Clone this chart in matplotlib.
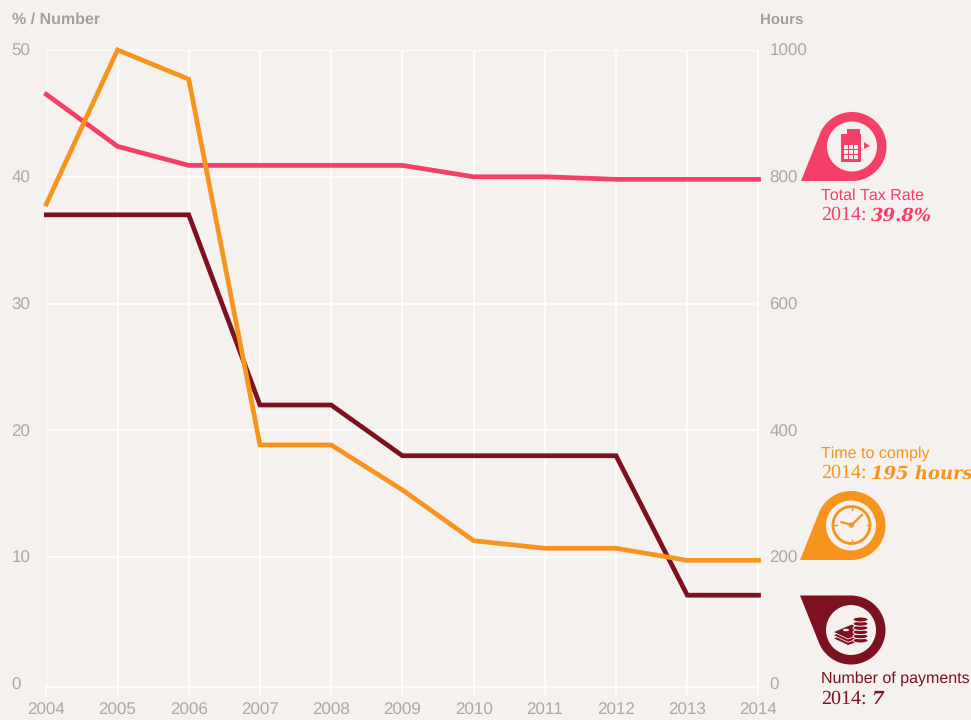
import numpy as np
import matplotlib
matplotlib.use('Agg')
import matplotlib.pyplot as plt
from matplotlib.patches import Polygon, Circle, Rectangle, Ellipse

years = [2004, 2005, 2006, 2007, 2008, 2009, 2010, 2011, 2012, 2013, 2014]
total_tax_rate = [46.5, 42.4, 40.9, 40.9, 40.9, 40.9, 40.0, 40.0, 39.8, 39.8, 39.8]
num_payments = [37, 37, 37, 22, 22, 18, 18, 18, 18, 7, 7]
time_to_comply = [757, 1000, 954, 377, 377, 306, 226, 214, 214, 195, 195]
left_ticks = [0, 10, 20, 30, 40, 50]
right_ticks = [0, 200, 400, 600, 800, 1000]

BG = '#f4f1ee'
PINK = '#f43f68'
ORANGE = '#f7941d'
MAROON = '#7d1120'
TICK = '#b0a79e'
HEAD = '#a89f96'
W, H = 971, 720

plt.rcParams['font.family'] = ['Liberation Sans', 'DejaVu Sans']
plt.rcParams['text.hinting'] = 'no_hinting'
plt.rcParams['text.hinting_factor'] = 1

fig = plt.figure(figsize=(W / 100, H / 100), dpi=100, facecolor=BG)
ax = fig.add_axes([46.3 / W, (H - 687) / H, 712.2 / W, 637 / H], facecolor=BG)
ax2 = ax.twinx()
ax.set_zorder(2)
ax2.set_zorder(1)
ax.patch.set_visible(False)
ax2.patch.set_facecolor(BG)

# the baseline sits a little under the zero label in the original
ax.set_xlim(2004, 2014)
ax.set_ylim(-0.24, 50)
ax2.set_ylim(-4.8, 1000)
ax.set_xticks(years)
ax.set_yticks(left_ticks)
ax2.set_yticks(right_ticks)
ax.grid(True, color='white', lw=1.2)
ax.yaxis.get_gridlines()[0].set_visible(False)
ax.set_axisbelow(True)
for a in (ax, ax2):
    for s in a.spines.values():
        s.set_visible(False)
ax.spines['bottom'].set_visible(True)
ax.spines['bottom'].set_color('white')
ax.spines['bottom'].set_linewidth(1.2)
ax.tick_params(axis='x', labelcolor=TICK, color='white', length=5.8, width=1.2,
               labelsize=12, pad=5.5)
ax.tick_params(axis='y', length=0, labelcolor=TICK, labelsize=12, pad=0)
ax2.tick_params(axis='y', length=0, labelcolor=TICK, labelsize=12, pad=8)
for lab in ax.get_yticklabels():
    lab.set_horizontalalignment('left')
    lab.set_x(-35 / 712.2)

ax.plot(years, total_tax_rate, color=PINK, lw=3.4, solid_joinstyle='miter', clip_on=False, zorder=3)
ax.plot(years, num_payments, color=MAROON, lw=3.4, solid_joinstyle='miter', clip_on=False, zorder=3)
ax.plot(years, np.array(time_to_comply) / 20, color=ORANGE, lw=3.4, solid_joinstyle='miter', clip_on=False, zorder=4)

# overlay in pixels for the badges and labels
ov = fig.add_axes([0, 0, 1, 1], facecolor='none')
ov.set_xlim(0, W)
ov.set_ylim(H, 0)
ov.axis('off')
ov.set_zorder(5)

ov.text(12, 19.5, '% / Number', color=HEAD, fontsize=11.5, fontweight='bold', va='center')
ov.text(760, 19.5, 'Hours', color=HEAD, fontsize=11, fontweight='bold', va='center')


def pin(cx, cy, color, flip=False):
    r = 34.5
    sign = -1 if flip else 1
    pts = [(cx - 51, cy + sign * r)]
    for t in np.radians(np.linspace(158, -90, 140)):
        pts.append((cx + r * np.cos(t), cy - sign * r * np.sin(t)))
    ov.add_patch(Polygon(pts, closed=True, fc=color, ec='none'))
    ov.add_patch(Circle((cx, cy), 25, fc=BG, ec='none'))


def label(x, y1, y2, name, value, color):
    ov.text(x, y1, name, color=color, fontsize=11.2, va='center')
    ov.text(x, y2, '2014:', color=color, fontsize=14.3, va='center', family='Liberation Serif')
    ov.text(871, y2 + 0.5, value, color=color, fontsize=12.8, va='center', family='DejaVu Serif',
            fontweight='bold', fontstyle='italic')


# calculator
pin(852, 146.5, PINK)
ov.add_patch(Rectangle((841, 134), 20, 28, fc=PINK, ec='none'))
ov.add_patch(Rectangle((847, 129), 13, 5, fc=PINK, ec='none'))
for i in range(3):
    for j in range(3):
        ov.add_patch(Rectangle((844 + i * 5.2, 145 + j * 5), 4, 4, fc=BG, ec='none'))
ov.add_patch(Polygon([(864, 142), (870, 146), (864, 149)], fc=PINK, ec='none'))

# clock
pin(851, 525.5, ORANGE)
ov.add_patch(Circle((851.5, 525), 18.5, fc='none', ec=ORANGE, lw=2))
ov.plot([851.5, 862], [525, 515], color=ORANGE, lw=1.6)
ov.plot([851.5, 841.5], [525, 522], color=ORANGE, lw=1.6)
ov.add_patch(Circle((851.5, 525), 2, fc=BG, ec=ORANGE, lw=1))
for dx, dy in [(0, -15), (0, 15), (-15, 0), (15, 0)]:
    ov.plot([851.5 + dx, 851.5 + dx * 1.2], [525 + dy, 525 + dy * 1.2], color=ORANGE, lw=1)

# coins and notes
pin(851, 630, MAROON, flip=True)
for k in [2, 1, 0]:
    ov.add_patch(Polygon([(833, 632 + k * 3.2), (852, 624 + k * 3.2), (866, 633 + k * 3.2), (848, 639 + k * 3.2)],
                         fc=MAROON, ec=BG, lw=0.6))
ov.add_patch(Ellipse((846, 630), 6, 2.5, fc=BG, ec='none'))
for k in range(5, -1, -1):
    ov.add_patch(Ellipse((860.5, 619.5 + k * 4.2), 15, 5, fc=MAROON, ec=BG, lw=0.7))

label(821, 195.5, 215, 'Total Tax Rate', '39.8%', PINK)
label(821, 453.5, 473, 'Time to comply', '195 hours', ORANGE)
label(821, 678.5, 699, 'Number of payments', '7', MAROON)

fig.savefig('out.png', dpi=100, facecolor=BG)
